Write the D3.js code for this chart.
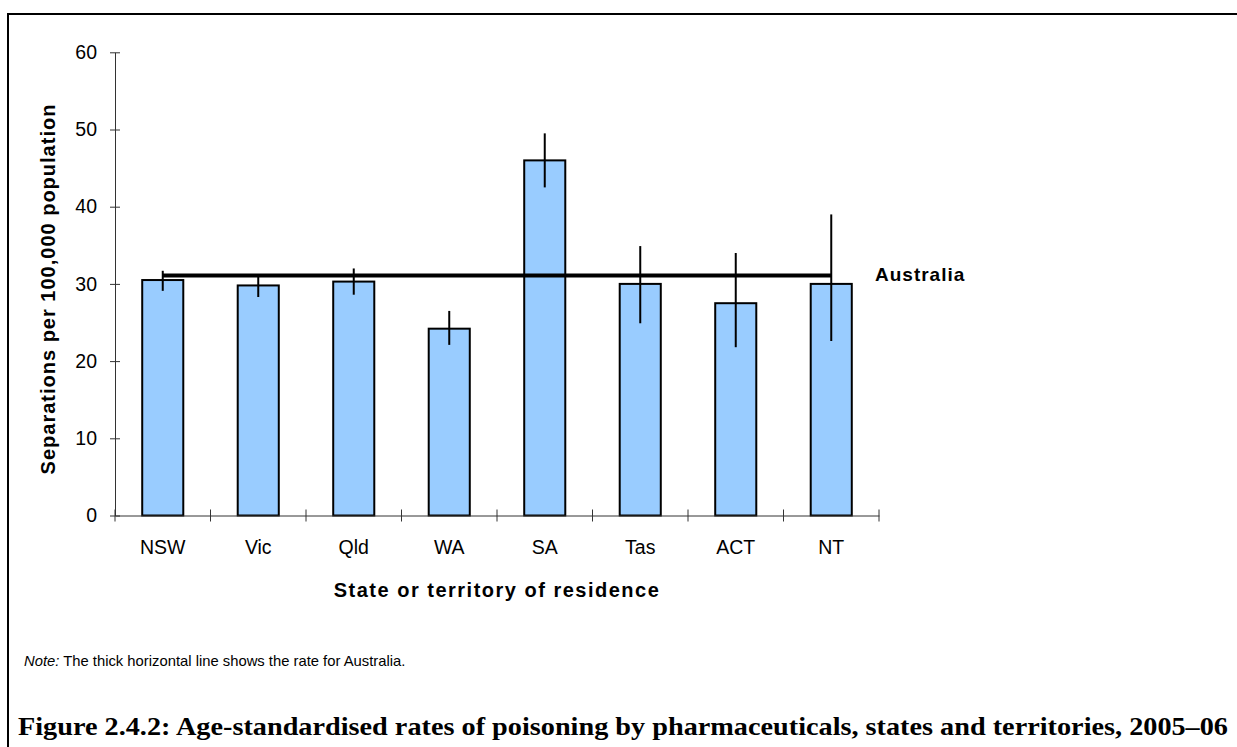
<!DOCTYPE html>
<html>
<head>
<meta charset="utf-8">
<script src="https://cdn.jsdelivr.net/npm/d3@7"></script>
<style>
  body { margin: 0; background: #fff; }
  svg { display: block; font-family: "Liberation Sans", Arial, sans-serif; }
</style>
</head>
<body>
<div id="chart"></div>
<script>
// Data
var states = ["NSW", "Vic", "Qld", "WA", "SA", "Tas", "ACT", "NT"];
var rates = [30.5, 29.8, 30.3, 24.2, 46.0, 30.0, 27.5, 30.0];
var lowerCI = [29.1, 28.3, 28.6, 22.1, 42.5, 24.9, 21.8, 22.6];
var upperCI = [31.7, 31.0, 32.0, 26.5, 49.5, 34.9, 34.0, 39.0];
var australiaRate = 31.1;
var yTicks = [0, 10, 20, 30, 40, 50, 60];

function init() {
    var w = 1237, h = 747;

    var svg = d3.select("#chart").append("svg")
        .attr("width", w)
        .attr("height", h);

    // outer frame (right and bottom edges fall outside the picture)
    svg.append("rect")
        .attr("x", 8).attr("y", 14)
        .attr("width", 1250).attr("height", 760)
        .attr("fill", "none")
        .attr("stroke", "#000")
        .attr("stroke-width", 2);

    var plotLeft = 115, plotRight = 879, plotTop = 52.3, plotBottom = 515.5;

    var x = d3.scaleBand()
        .domain(states)
        .range([plotLeft, plotRight])
        .padding(0);

    var y = d3.scaleLinear()
        .domain([0, 60])
        .range([plotBottom, plotTop]);

    var barW = x.bandwidth() * 0.43;

    // y axis
    var yAxis = svg.append("g")
        .attr("transform", `translate(${plotLeft},0)`)
        .call(d3.axisLeft(y).tickValues(yTicks).tickSize(5).tickSizeOuter(0).tickPadding(13));
    yAxis.select(".domain").attr("stroke", "#333");
    yAxis.selectAll(".tick line").attr("stroke", "#333").attr("x1", -5).attr("x2", 5);
    yAxis.selectAll(".tick text")
        .attr("font-size", 19.5)
        .attr("font-family", "Liberation Sans, Arial, sans-serif")
        .attr("fill", "#000");

    // bars
    svg.selectAll(".bar")
        .data(states)
        .enter().append("rect")
        .attr("class", "bar")
        .attr("x", d => x(d) + (x.bandwidth() - barW) / 2)
        .attr("y", (d, i) => y(rates[i]))
        .attr("width", barW)
        .attr("height", (d, i) => y(0) - y(rates[i]))
        .attr("fill", "#99CCFF")
        .attr("stroke", "#000")
        .attr("stroke-width", 2);

    // x axis
    var xAxis = svg.append("g")
        .attr("transform", `translate(0,${plotBottom})`)
        .call(d3.axisBottom(x).tickSize(0).tickSizeOuter(0).tickPadding(25));
    xAxis.select(".domain").attr("stroke", "#333");
    xAxis.selectAll(".tick text")
        .attr("font-size", 19.5)
        .attr("font-family", "Liberation Sans, Arial, sans-serif")
        .attr("fill", "#000");

    // category boundary ticks
    var bounds = states.map(d => x(d)).concat([x(states[states.length - 1]) + x.bandwidth()]);
    svg.selectAll(".xtick")
        .data(bounds)
        .enter().append("line")
        .attr("class", "xtick")
        .attr("x1", d => d).attr("x2", d => d)
        .attr("y1", plotBottom - 6).attr("y2", plotBottom + 6)
        .attr("stroke", "#333");

    // Australia line
    svg.append("line")
        .attr("x1", x(states[0]) + x.bandwidth() / 2)
        .attr("x2", x(states[states.length - 1]) + x.bandwidth() / 2)
        .attr("y1", y(australiaRate))
        .attr("y2", y(australiaRate))
        .attr("stroke", "#000")
        .attr("stroke-width", 4);

    // error bars
    svg.selectAll(".err")
        .data(states)
        .enter().append("line")
        .attr("class", "err")
        .attr("x1", d => x(d) + x.bandwidth() / 2)
        .attr("x2", d => x(d) + x.bandwidth() / 2)
        .attr("y1", (d, i) => y(lowerCI[i]))
        .attr("y2", (d, i) => y(upperCI[i]))
        .attr("stroke", "#000")
        .attr("stroke-width", 2);

    svg.append("text")
        .attr("x", 875)
        .attr("y", y(australiaRate) + 6)
        .attr("font-size", 19)
        .attr("font-weight", "bold")
        .attr("letter-spacing", 1)
        .text("Australia");

    // axis titles
    svg.append("text")
        .attr("x", (plotLeft + plotRight) / 2)
        .attr("y", 597)
        .attr("text-anchor", "middle")
        .attr("font-size", 20)
        .attr("font-weight", "bold")
        .attr("letter-spacing", 1.5)
        .text("State or territory of residence");

    svg.append("text")
        .attr("transform", "translate(55,289) rotate(-90)")
        .attr("text-anchor", "middle")
        .attr("font-size", 20)
        .attr("font-weight", "bold")
        .attr("letter-spacing", 1)
        .text("Separations per 100,000 population");

    // note
    var note = svg.append("text")
        .attr("x", 24)
        .attr("y", 666)
        .attr("font-size", 14.8);
    note.append("tspan").attr("font-style", "italic").text("Note:");
    note.append("tspan").text(" The thick horizontal line shows the rate for Australia.");

    // figure title
    svg.append("text")
        .attr("x", 18)
        .attr("y", 735)
        .attr("font-family", "Liberation Serif, Times New Roman, serif")
        .attr("font-size", 26)
        .attr("font-weight", "bold")
        .attr("textLength", 1210)
        .attr("lengthAdjust", "spacingAndGlyphs")
        .text("Figure 2.4.2: Age-standardised rates of poisoning by pharmaceuticals, states and territories, 2005–06");
}

init();
</script>
</body>
</html>
